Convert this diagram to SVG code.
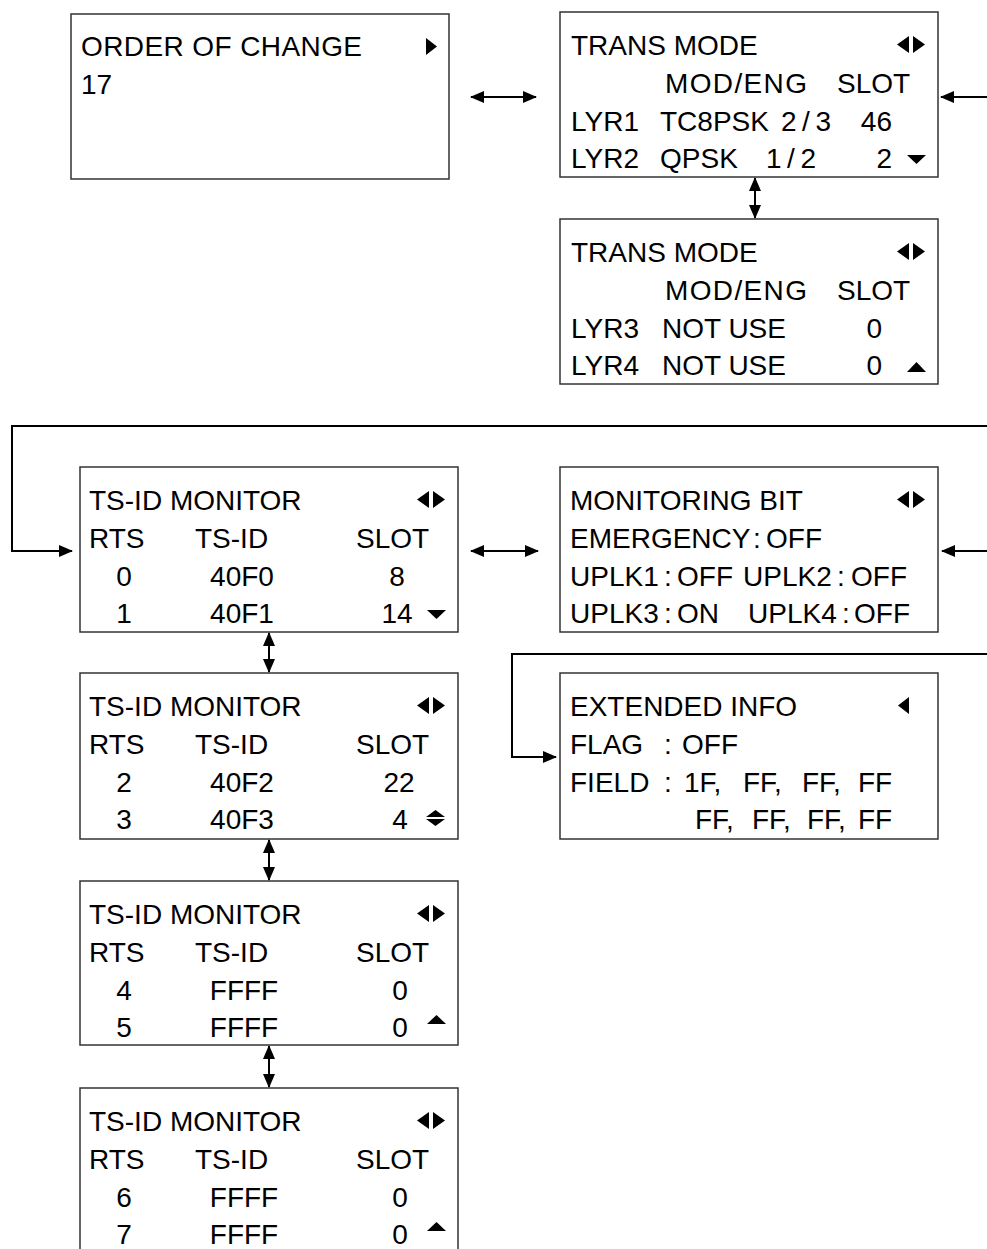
<svg xmlns="http://www.w3.org/2000/svg" width="987" height="1249" viewBox="0 0 987 1249">
<style>
.box{fill:#fff;stroke:#333;stroke-width:1.5}
.t{font-family:"Liberation Sans",Arial,sans-serif;font-size:28px;fill:#000}
.m{text-anchor:middle}
.e{text-anchor:end}
.tri{fill:#000}
.con{fill:none;stroke:#000;stroke-width:2}
</style>
<defs>
<marker id="ah" viewBox="0 0 14 12" refX="13" refY="6" markerWidth="14" markerHeight="12" orient="auto-start-reverse" markerUnits="userSpaceOnUse"><path d="M0,0 L14,6 L0,12 z" fill="#000"/></marker>
<g id="lr"><polygon class="tri" points="337,32.5 349,24 349,41"/><polygon class="tri" points="353,24 353,41 365,32.5"/></g>
</defs>

<g id="connectors">
<line class="con" x1="471" y1="97" x2="536" y2="97" marker-start="url(#ah)" marker-end="url(#ah)"/>
<line class="con" x1="987" y1="97" x2="941" y2="97" marker-end="url(#ah)"/>
<line class="con" x1="755" y1="178" x2="755" y2="218" marker-start="url(#ah)" marker-end="url(#ah)"/>
<polyline class="con" points="987,426 12,426 12,551 72,551" marker-end="url(#ah)"/>
<line class="con" x1="471" y1="551" x2="538" y2="551" marker-start="url(#ah)" marker-end="url(#ah)"/>
<line class="con" x1="987" y1="551" x2="942" y2="551" marker-end="url(#ah)"/>
<polyline class="con" points="987,654 512,654 512,757 556,757" marker-end="url(#ah)"/>
<line class="con" x1="269" y1="633" x2="269" y2="672" marker-start="url(#ah)" marker-end="url(#ah)"/>
<line class="con" x1="269" y1="840" x2="269" y2="880" marker-start="url(#ah)" marker-end="url(#ah)"/>
<line class="con" x1="269" y1="1046" x2="269" y2="1087" marker-start="url(#ah)" marker-end="url(#ah)"/>
</g>

<g id="order-of-change" transform="translate(71,14)">
<rect class="box" x="0" y="0" width="378" height="165"/>
<text class="t" x="10" y="42" textLength="281" lengthAdjust="spacing">ORDER OF CHANGE</text>
<polygon class="tri" points="355,24 355,41 366,32.5"/>
<text class="t" x="10" y="80">17</text>
</g>

<g id="trans-mode-1" transform="translate(560,12)">
<rect class="box" x="0" y="0" width="378" height="165"/>
<text class="t" x="11" y="43">TRANS MODE</text>
<use href="#lr"/>
<text class="t" x="105" y="81" textLength="142" lengthAdjust="spacing">MOD/ENG</text>
<text class="t" x="277" y="81">SLOT</text>
<text class="t" x="11" y="119">LYR1</text>
<text class="t" x="100" y="119">TC8PSK</text>
<text class="t" x="221" y="119" textLength="50" lengthAdjust="spacing">2/3</text>
<text class="t e" x="332" y="119">46</text>
<text class="t" x="11" y="156">LYR2</text>
<text class="t" x="100" y="156">QPSK</text>
<text class="t" x="206" y="156" textLength="50" lengthAdjust="spacing">1/2</text>
<text class="t e" x="332" y="156">2</text>
<polygon class="tri" points="347,143 366,143 356.5,152"/>
</g>

<g id="trans-mode-2" transform="translate(560,219)">
<rect class="box" x="0" y="0" width="378" height="165"/>
<text class="t" x="11" y="43">TRANS MODE</text>
<use href="#lr"/>
<text class="t" x="105" y="81" textLength="142" lengthAdjust="spacing">MOD/ENG</text>
<text class="t" x="277" y="81">SLOT</text>
<text class="t" x="11" y="119">LYR3</text>
<text class="t" x="102" y="119">NOT USE</text>
<text class="t e" x="322" y="119">0</text>
<text class="t" x="11" y="156">LYR4</text>
<text class="t" x="102" y="156">NOT USE</text>
<text class="t e" x="322" y="156">0</text>
<polygon class="tri" points="356.5,143 347,153 366,153"/>
</g>

<g id="ts-id-monitor-1" transform="translate(80,467)">
<rect class="box" x="0" y="0" width="378" height="165"/>
<text class="t" x="9" y="43">TS-ID MONITOR</text>
<use href="#lr"/>
<text class="t" x="9" y="81">RTS</text>
<text class="t" x="115" y="81">TS-ID</text>
<text class="t" x="276" y="81">SLOT</text>
<text class="t m" x="44" y="119">0</text>
<text class="t m" x="162" y="119">40F0</text>
<text class="t m" x="317" y="119">8</text>
<text class="t m" x="44" y="156">1</text>
<text class="t m" x="162" y="156">40F1</text>
<text class="t m" x="317" y="156">14</text>
<polygon class="tri" points="347,143 366,143 356.5,152"/>
</g>

<g id="monitoring-bit" transform="translate(560,467)">
<rect class="box" x="0" y="0" width="378" height="165"/>
<text class="t" x="10" y="43">MONITORING BIT</text>
<use href="#lr"/>
<text class="t" x="10" y="81">EMERGENCY</text>
<text class="t" x="193" y="81">:</text>
<text class="t" x="206" y="81">OFF</text>
<text class="t" x="10" y="119">UPLK1</text>
<text class="t" x="104" y="119">:</text>
<text class="t" x="117" y="119">OFF</text>
<text class="t" x="183" y="119">UPLK2</text>
<text class="t" x="277" y="119">:</text>
<text class="t" x="291" y="119">OFF</text>
<text class="t" x="10" y="156">UPLK3</text>
<text class="t" x="104" y="156">:</text>
<text class="t" x="117" y="156">ON</text>
<text class="t" x="188" y="156">UPLK4</text>
<text class="t" x="282" y="156">:</text>
<text class="t" x="294" y="156">OFF</text>
</g>

<g id="extended-info" transform="translate(560,673)">
<rect class="box" x="0" y="0" width="378" height="166"/>
<text class="t" x="10" y="43">EXTENDED INFO</text>
<polygon class="tri" points="338,32.5 349,24 349,41"/>
<text class="t" x="10" y="81">FLAG</text>
<text class="t" x="104" y="81">:</text>
<text class="t" x="122" y="81">OFF</text>
<text class="t" x="10" y="119">FIELD</text>
<text class="t" x="104" y="119">:</text>
<text class="t" x="124" y="119">1F,</text>
<text class="t" x="183" y="119">FF,</text>
<text class="t" x="242" y="119">FF,</text>
<text class="t" x="298" y="119">FF</text>
<text class="t" x="135" y="156">FF,</text>
<text class="t" x="192" y="156">FF,</text>
<text class="t" x="247" y="156">FF,</text>
<text class="t" x="298" y="156">FF</text>
</g>

<g id="ts-id-monitor-2" transform="translate(80,673)">
<rect class="box" x="0" y="0" width="378" height="166"/>
<text class="t" x="9" y="43">TS-ID MONITOR</text>
<use href="#lr"/>
<text class="t" x="9" y="81">RTS</text>
<text class="t" x="115" y="81">TS-ID</text>
<text class="t" x="276" y="81">SLOT</text>
<text class="t m" x="44" y="119">2</text>
<text class="t m" x="162" y="119">40F2</text>
<text class="t m" x="319" y="119">22</text>
<text class="t m" x="44" y="156">3</text>
<text class="t m" x="162" y="156">40F3</text>
<text class="t m" x="320" y="156">4</text>
<polygon class="tri" points="355.5,137 346,144 365,144"/>
<polygon class="tri" points="346,146 365,146 355.5,153"/>
</g>

<g id="ts-id-monitor-3" transform="translate(80,881)">
<rect class="box" x="0" y="0" width="378" height="164"/>
<text class="t" x="9" y="43">TS-ID MONITOR</text>
<use href="#lr"/>
<text class="t" x="9" y="81">RTS</text>
<text class="t" x="115" y="81">TS-ID</text>
<text class="t" x="276" y="81">SLOT</text>
<text class="t m" x="44" y="119">4</text>
<text class="t m" x="164" y="119">FFFF</text>
<text class="t m" x="320" y="119">0</text>
<text class="t m" x="44" y="156">5</text>
<text class="t m" x="164" y="156">FFFF</text>
<text class="t m" x="320" y="156">0</text>
<polygon class="tri" points="356.5,134 347,143 366,143"/>
</g>

<g id="ts-id-monitor-4" transform="translate(80,1088)">
<rect class="box" x="0" y="0" width="378" height="170"/>
<text class="t" x="9" y="43">TS-ID MONITOR</text>
<use href="#lr"/>
<text class="t" x="9" y="81">RTS</text>
<text class="t" x="115" y="81">TS-ID</text>
<text class="t" x="276" y="81">SLOT</text>
<text class="t m" x="44" y="119">6</text>
<text class="t m" x="164" y="119">FFFF</text>
<text class="t m" x="320" y="119">0</text>
<text class="t m" x="44" y="156">7</text>
<text class="t m" x="164" y="156">FFFF</text>
<text class="t m" x="320" y="156">0</text>
<polygon class="tri" points="356.5,134 347,143 366,143"/>
</g>
</svg>
